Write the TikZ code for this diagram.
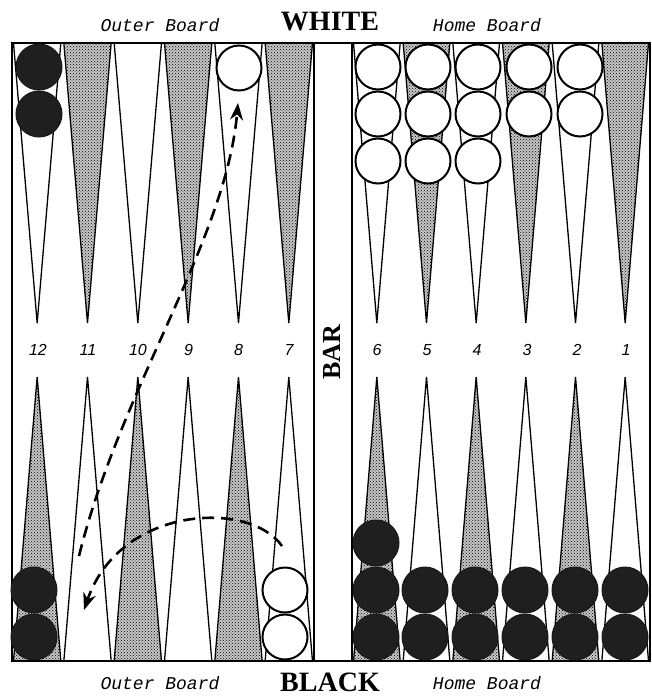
\documentclass[tikz,border=0pt]{standalone}
\usepackage{fontspec}
\setmainfont{Liberation Serif}
\newfontfamily\monoit{Liberation Mono}
\newfontfamily\numfont{Liberation Sans}
\usetikzlibrary{patterns,arrows.meta}
\begin{document}
\begin{tikzpicture}[x=1pt,y=-1pt]
\useasboundingbox[fill=white] (0,0) rectangle (652,696);
\tikzset{
 pointw/.style={draw=black, line width=1.3pt, fill=white},
 points/.style={draw=black, line width=1.3pt, preaction={fill=black!22}, pattern=crosshatch dots, pattern color=black},
 wchk/.style={circle, draw=black, line width=2pt, fill=white, minimum size=45pt, inner sep=0pt},
 bchk/.style={circle, draw=black!90, line width=1pt, fill=black!88, minimum size=46pt, inner sep=0pt},
 lbl/.style={font=\monoit\itshape\fontsize{18}{18}\selectfont},
 num/.style={font=\numfont\itshape\fontsize{16}{16}\selectfont},
 big/.style={font=\bfseries\fontsize{28}{28}\selectfont},
 mv/.style={line width=2.6pt, dash pattern=on 12pt off 7pt, -{Stealth[length=17pt,width=13pt]}}
}
% points, left half (12..7)
\foreach \i in {0,...,5}{
  \pgfmathsetmacro\xa{12+\i*50.33}
  \pgfmathsetmacro\xb{\xa+50.33}
  \pgfmathsetmacro\xm{\xa+25.17}
  \ifodd\i
    \path[points] (\xa+1.5,43) -- (\xm,323) -- (\xb-1.5,43) -- cycle;
    \path[pointw] (\xa+1.5,661) -- (\xm,377) -- (\xb-1.5,661) -- cycle;
  \else
    \path[pointw] (\xa+1.5,43) -- (\xm,323) -- (\xb-1.5,43) -- cycle;
    \path[points] (\xa+1.5,661) -- (\xm,377) -- (\xb-1.5,661) -- cycle;
  \fi
}
% points, right half (6..1)
\foreach \i in {0,...,5}{
  \pgfmathsetmacro\xa{352+\i*49.67}
  \pgfmathsetmacro\xb{\xa+49.67}
  \pgfmathsetmacro\xm{\xa+24.83}
  \ifodd\i
    \path[points] (\xa+1.5,43) -- (\xm,323) -- (\xb-1.5,43) -- cycle;
    \path[pointw] (\xa+1.5,661) -- (\xm,377) -- (\xb-1.5,661) -- cycle;
  \else
    \path[pointw] (\xa+1.5,43) -- (\xm,323) -- (\xb-1.5,43) -- cycle;
    \path[points] (\xa+1.5,661) -- (\xm,377) -- (\xb-1.5,661) -- cycle;
  \fi
}
% board frame and bar
\draw[line width=1.8pt] (12,43) rectangle (650,661);
\draw[line width=1.4pt] (314,43) -- (314,661);
\draw[line width=1.4pt] (352,43) -- (352,661);
% numbers
\node[num] (n12) at (38,350) {12};
\node[num] (n11) at (88,350) {11};
\node[num] (n10) at (138,350) {10};
\node[num] (n9) at (188.5,350) {9};
\node[num] (n8) at (238.5,350) {8};
\node[num] (n7) at (289,350) {7};
\node[num] (n6) at (377,350) {6};
\node[num] (n5) at (427,350) {5};
\node[num] (n4) at (477,350) {4};
\node[num] (n3) at (527,350) {3};
\node[num] (n2) at (577,350) {2};
\node[num] (n1) at (626,350) {1};
\node[big, rotate=90, font=\bfseries\fontsize{26}{26}\selectfont] (bar) at (332,352) {BAR};
% titles
\node[lbl] (ob1) at (160,25) {Outer Board};
\node[big] (white) at (330,22) {WHITE};
\node[lbl] (hb1) at (487,25) {Home Board};
\node[lbl] (ob2) at (160,683) {Outer Board};
\node[big] (black) at (330,682) {BLACK};
\node[lbl] (hb2) at (487,683) {Home Board};
% top checkers
\node[bchk] (tb1) at (39,67) {};
\node[bchk] (tb2) at (39,114) {};
\node[wchk] (tw8) at (239,68) {};
\foreach \x/\n in {378/3,428/3,478/3,529/2,580/2}{
  \foreach \k in {1,...,\n}{
    \node[wchk] (tw\x-\k) at (\x,{67+(\k-1)*47}) {};
  }
}
% bottom checkers
\node[bchk] (bb1) at (34,590) {};
\node[bchk] (bb2) at (34,637) {};
\node[wchk] (bw1) at (285,590) {};
\node[wchk] (bw2) at (285,637) {};
\node[bchk] (b6a) at (376,543) {};
\foreach \x in {376,425,475,525,575,625}{
  \node[bchk] (b\x a) at (\x,590) {};
  \node[bchk] (b\x b) at (\x,637) {};
}
% moves
\coordinate (a1s) at (79,556);
\coordinate (a1e) at (238,103);
\draw[mv] (a1s) .. controls (120,390) and (226,240) .. (a1e);
\coordinate (a2s) at (282,546);
\coordinate (a2e) at (84,610);
\draw[mv] (a2s) .. controls (250,500) and (120,505) .. (a2e);
\end{tikzpicture}
\end{document}
